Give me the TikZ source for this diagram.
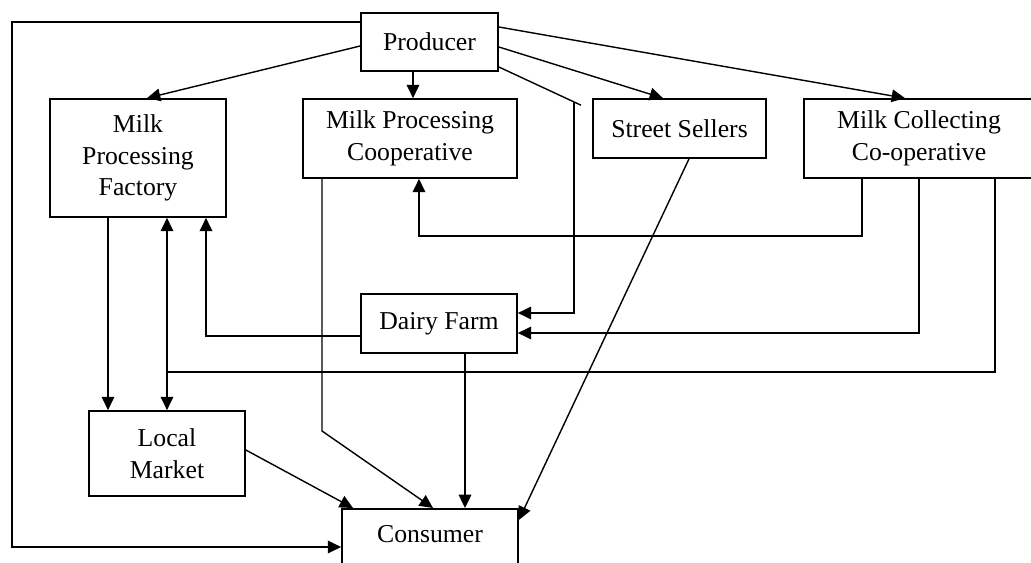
\documentclass[tikz,border=0pt]{standalone}
\usepackage{fontspec}
\setmainfont{Liberation Serif}
\usetikzlibrary{arrows.meta}

\begin{document}
\begin{tikzpicture}[x=0.025cm,y=-0.025cm,
	unitbox/.style={draw,line width=1.2pt,align=center,inner sep=0pt,
		font=\fontsize{18.3}{22.5}\selectfont},
	link/.style={line width=1pt},
	flow/.style={line width=1pt,-{Triangle[length=9.5pt,width=9pt]}}]
	\useasboundingbox (0,0) rectangle (1031,563);

	% the boxes
	\node[unitbox,minimum width=3.425cm,minimum height=1.45cm] (Producer) at (429.5,42) {Producer};
	\node[unitbox,minimum width=4.4cm,minimum height=2.95cm] (Factory) at (138,158) {Milk\\Processing\\Factory};
	\node[unitbox,minimum width=5.35cm,minimum height=1.975cm] (ProcCoop) at (410,138.5) {Milk Processing\\Cooperative};
	\node[unitbox,minimum width=4.325cm,minimum height=1.475cm] (Sellers) at (679.5,128.5) {Street Sellers};
	\node[unitbox,minimum width=5.75cm,minimum height=1.975cm] (CollCoop) at (919,138.5) {Milk Collecting\\Co-operative};
	\node[unitbox,minimum width=3.9cm,minimum height=1.475cm] (Dairy) at (439,323.5) {Dairy Farm};
	\node[unitbox,minimum width=3.9cm,minimum height=2.125cm] (Market) at (167,453.5) {Local\\Market};
	\node[unitbox,minimum width=4.4cm,anchor=north,inner ysep=0.35cm,text height=0.5cm,text depth=1.2cm] (Consumer) at (430,508) {Consumer};

	\coordinate (LeftTurn) at (12,547);
	\coordinate (DairyTurn) at (574,102);
	\coordinate (DairyTick) at (581,105.2);
	\coordinate (Split) at (167,372);

	% from the producer
	\draw[flow] (Producer.west |- 0,22) -| (LeftTurn) -- (Consumer.west |- LeftTurn);
	\draw[flow] (Producer.west |- 0,46) -- (Factory.north -| 147,0);
	\draw[flow] (Producer.south -| 413,0) -- (ProcCoop.north -| 413,0);
	\draw[flow] (Producer.east |- 0,27) -- (CollCoop.north -| 905,0);
	\draw[flow] (Producer.east |- 0,47) -- (Sellers.north -| 663,0);
	\draw[link] (Producer.east |- 0,67) -- (DairyTick);
	\draw[flow] (DairyTurn) |- (Dairy.east |- 0,313);

	% from the collecting co-operative
	\draw[flow] (CollCoop.south -| 862,0) -- (862,236) -| (ProcCoop.south -| 419,0);
	\draw[flow] (CollCoop.south -| 919,0) |- (Dairy.east |- 0,333);
	\draw[link] (CollCoop.south -| 995,0) |- (Split);
	\draw[flow] (Split) -- (Factory.south -| Split);
	\draw[flow] (Split) -- (Market.north);

	% the rest
	\draw[flow] (Factory.south -| 108,0) -- (Market.north -| 108,0);
	\draw[flow] (Dairy.west |- 0,336) -| (Factory.south -| 206,0);
	\draw[flow] (ProcCoop.south -| 322,0) -- (322,431) -- (Consumer.north -| 433,0);
	\draw[flow] (Market.east |- 0,450) -- (Consumer.north -| 353,0);
	\draw[flow] (Dairy.south -| 465,0) -- (Consumer.north -| 465,0);
	\draw[flow] (Sellers.south -| 689,0) -- (Consumer.east |- 0,520);
\end{tikzpicture}
\end{document}
